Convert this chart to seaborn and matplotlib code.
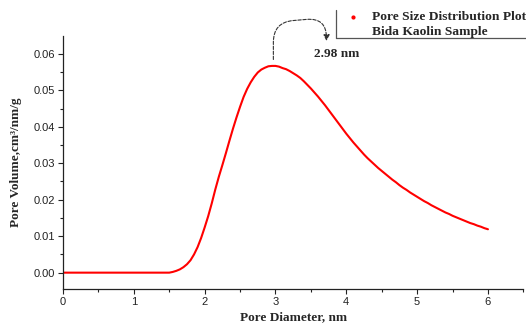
import numpy as np
import matplotlib
matplotlib.use("Agg")
import matplotlib.pyplot as plt
from matplotlib.lines import Line2D
from matplotlib.ticker import MultipleLocator
import seaborn as sns

# -------------------------------------------------------------------
# Data (pore diameter in nm, volume in cm3/nm/g)
# -------------------------------------------------------------------

flat_diameter = [0.0, 0.5, 1.0, 1.5]
flat_volume = [0.0, 0.0, 0.0, 0.0]

diameter = [
    1.55, 1.60, 1.65, 1.70, 1.75, 1.80, 1.85, 1.90, 1.95, 2.00,
    2.05, 2.10, 2.15, 2.20, 2.25, 2.30, 2.35, 2.40, 2.45, 2.50,
    2.55, 2.60, 2.65, 2.70, 2.75, 2.80, 2.85, 2.90, 2.95, 3.00,
    3.05, 3.10, 3.15, 3.20, 3.25, 3.30, 3.35, 3.40, 3.45, 3.50,
    3.55, 3.60, 3.65, 3.70, 3.75, 3.80, 3.85, 3.90, 3.95, 4.00,
    4.05, 4.10, 4.15, 4.20, 4.25, 4.30, 4.35, 4.40, 4.45, 4.50,
    4.55, 4.60, 4.65, 4.70, 4.75, 4.80, 4.85, 4.90, 4.95, 5.00,
    5.05, 5.10, 5.15, 5.20, 5.25, 5.30, 5.35, 5.40, 5.45, 5.50,
    5.55, 5.60, 5.65, 5.70, 5.75, 5.80, 5.85, 5.90, 5.95, 6.00,
]
volume = [
    0.0002, 0.0005, 0.0009, 0.0015, 0.0023, 0.0034, 0.0050, 0.0070, 0.0095, 0.0124,
    0.0155, 0.0190, 0.0228, 0.0263, 0.0295, 0.0328, 0.0362, 0.0395, 0.0426, 0.0455,
    0.0482, 0.0504, 0.0522, 0.0537, 0.0549, 0.0557, 0.0562, 0.0566, 0.0567, 0.0567,
    0.0565, 0.0561, 0.0558, 0.0553, 0.0547, 0.0541, 0.0534, 0.0525, 0.0515, 0.0505,
    0.0494, 0.0483, 0.0471, 0.0459, 0.0446, 0.0433, 0.0420, 0.0407, 0.0394, 0.0381,
    0.0369, 0.0357, 0.0346, 0.0335, 0.0324, 0.0314, 0.0305, 0.0296, 0.0287, 0.0279,
    0.0271, 0.0263, 0.0255, 0.0248, 0.0240, 0.0233, 0.0227, 0.0220, 0.0214, 0.0208,
    0.0202, 0.0196, 0.0191, 0.0185, 0.0180, 0.0175, 0.0170, 0.0165, 0.0161, 0.0156,
    0.0152, 0.0148, 0.0144, 0.0140, 0.0136, 0.0133, 0.0129, 0.0126, 0.0122, 0.0119,
]

peak_label = "2.98 nm"
legend_lines = ["Pore Size Distribution Plot", "Bida Kaolin Sample"]

# -------------------------------------------------------------------
# Plot
# -------------------------------------------------------------------

sns.set_style("ticks")
plt.rcParams["font.family"] = ["Liberation Sans", "DejaVu Sans"]

fig = plt.figure(figsize=(5.26, 3.25), dpi=100)
ax = fig.add_axes([0.1198, 0.1117, 0.8752, 0.7775])

x_all = flat_diameter + diameter
y_all = flat_volume + volume
sns.lineplot(x=x_all, y=y_all, color="red", linewidth=1.5, ax=ax, sort=False)

ax.set_xlim(0, 6.5)
ax.set_ylim(-0.0044, 0.0649)
ax.xaxis.set_major_locator(MultipleLocator(1))
ax.xaxis.set_minor_locator(MultipleLocator(0.5))
ax.yaxis.set_major_locator(MultipleLocator(0.01))
ax.yaxis.set_minor_locator(MultipleLocator(0.005))
ax.yaxis.set_major_formatter(matplotlib.ticker.FormatStrFormatter("%.2f"))
ax.tick_params(which="major", direction="out", length=3.5, width=0.8,
               labelsize=8, colors="#222222", pad=2.5)
ax.tick_params(which="minor", direction="out", length=2, width=0.8, colors="#222222")
sns.despine(ax=ax)
for s in ["left", "bottom"]:
    ax.spines[s].set_linewidth(0.9)
    ax.spines[s].set_color("#222222")

label_font = dict(family="Liberation Serif", fontweight="bold", fontsize=9.5)
ax.set_xlabel("Pore Diameter, nm", labelpad=3, **label_font)
ax.set_ylabel("Pore Volume,cm³/nm/g", labelpad=8, **label_font)

# peak annotation with curved dashed arrow
ax.annotate("", xy=(3.72, 0.0628), xytext=(2.97, 0.0577),
            annotation_clip=False,
            arrowprops=dict(arrowstyle="-|>,head_length=0.35,head_width=0.18",
                            color="#333333", linestyle=(0, (3, 1.5)), linewidth=0.8,
                            connectionstyle="arc,angleA=90,armA=40,angleB=90,armB=26,rad=20"))
ax.text(3.55, 0.0600, peak_label, family="Liberation Serif", fontweight="bold",
        fontsize=9.5, ha="left", va="center", clip_on=False)

# legend box (only left and bottom edges visible in the crop)
fig.add_artist(Line2D([336 / 526, 336 / 526], [1 - 10 / 325, 1 - 38 / 325], transform=fig.transFigure,
                      color="#555555", linewidth=0.9))
fig.add_artist(Line2D([336 / 526, 1.0], [1 - 38 / 325, 1 - 38 / 325], transform=fig.transFigure,
                      color="#555555", linewidth=0.9))
fig.add_artist(Line2D([353 / 526], [1 - 17 / 325], transform=fig.transFigure,
                      marker="o", markersize=2, color="red", linestyle="none"))
fig.text(372 / 526, 1 - 17 / 325, legend_lines[0], family="Liberation Serif",
         fontweight="bold", fontsize=9.7, va="center", ha="left")
fig.text(372 / 526, 1 - 32 / 325, legend_lines[1], family="Liberation Serif",
         fontweight="bold", fontsize=9.7, va="center", ha="left")

fig.savefig("out.png", dpi=100)
